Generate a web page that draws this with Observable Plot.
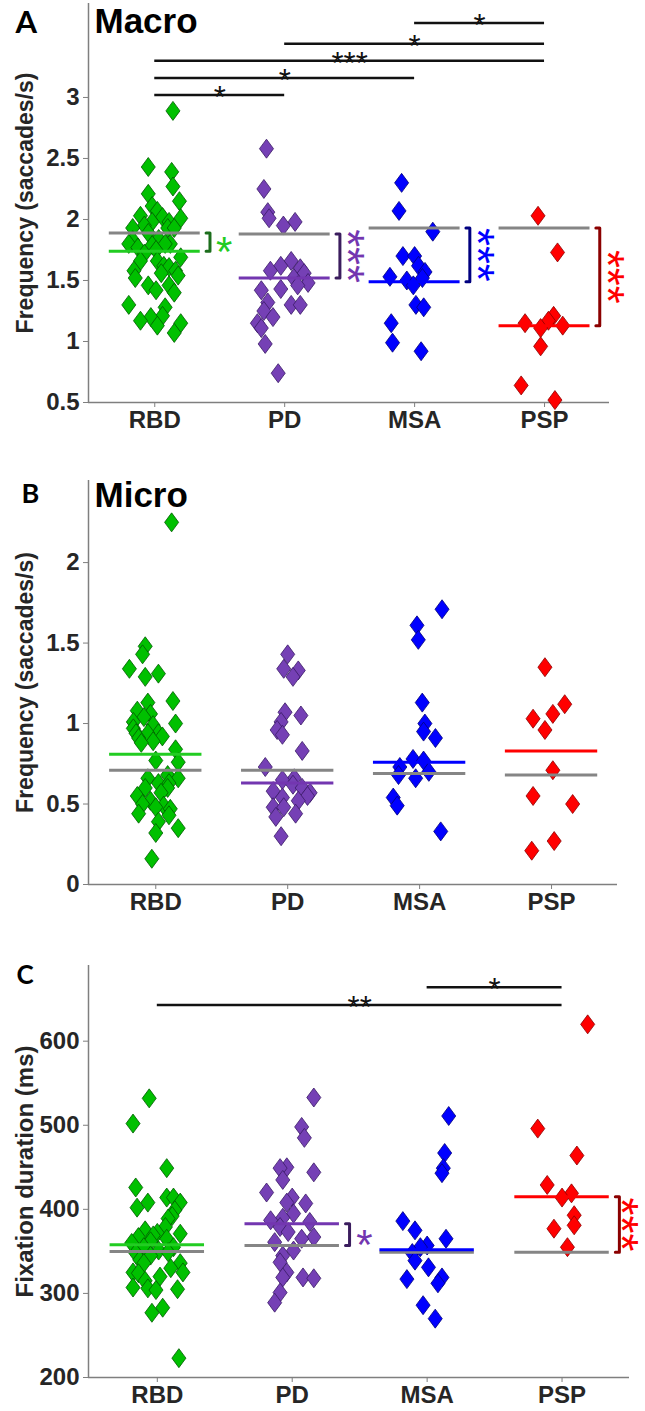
<!DOCTYPE html>
<html>
<head>
<meta charset="utf-8">
<script src="https://cdn.jsdelivr.net/npm/d3@7"></script>
<script src="https://cdn.jsdelivr.net/npm/@observablehq/plot@0.6"></script>
<style>
  body { margin: 0; background: #fff; }
  #chart svg { display: block; }
</style>
</head>
<body>
<div id="chart"></div>
<script>
const groups = ["RBD", "PD", "MSA", "PSP"];

// ---------- Panel A: Macro (saccades/s) ----------
const macroRBD  = [2.89,2.43,2.39,2.27,2.21,2.15,2.11,2.07,2.03,2.01,2.02,1.98,1.98,1.95,1.93,1.93,1.93,1.89,1.84,1.83,1.80,1.80,1.80,1.79,1.77,1.75,1.72,1.69,1.66,1.66,1.62,1.61,1.58,1.58,1.56,1.54,1.52,1.46,1.46,1.42,1.40,1.30,1.28,1.21,1.20,1.17,1.15,1.13,1.07];
const macroRBDx = [0.14,-0.05,0.13,0.14,-0.05,0.19,-0.02,0.02,-0.11,0.20,0.06,-0.02,0.11,-0.08,-0.17,0.10,0.15,-0.05,0.03,-0.17,-0.20,0.12,0.08,-0.02,-0.13,0.01,-0.08,0.20,0.02,-0.11,0.07,0.11,-0.16,0.16,0.05,0.18,-0.15,-0.05,0.11,0.01,0.15,-0.20,0.08,0.06,-0.03,-0.11,0.20,0.02,0.15];
const macroPD   = [2.58,2.25,2.06,2.01,1.98,1.95,1.66,1.62,1.60,1.58,1.56,1.52,1.48,1.46,1.43,1.42,1.32,1.30,1.30,1.25,1.20,1.15,1.11,0.98,0.74];
const macroPDx  = [-0.14,-0.16,-0.13,-0.12,0.08,-0.01,0.05,-0.03,0.12,-0.11,0.15,0.07,0.18,0.10,-0.03,-0.18,-0.13,0.05,0.12,-0.16,-0.09,-0.21,-0.18,-0.15,-0.05];
const macroMSA  = [2.30,2.07,1.90,1.70,1.70,1.62,1.57,1.53,1.52,1.50,1.46,1.30,1.28,1.15,0.99,0.92];
const macroMSAx = [-0.10,-0.12,0.14,-0.09,0.00,0.03,0.08,-0.19,0.06,-0.06,-0.01,0.01,0.07,-0.18,-0.17,0.05];
const macroPSP  = [2.03,1.73,1.21,1.17,1.15,1.13,1.11,0.96,0.64,0.52];
const macroPSPx = [-0.05,0.10,0.07,0.03,-0.15,0.14,-0.03,-0.03,-0.18,0.08];
const macroMedian  = [1.74, 1.52, 1.49, 1.13];
const macroControl = [1.89, 1.88, 1.93, 1.93];
const macroStars   = ["*", "***", "***", "***"];
const macroSig = [
  {a: 0, b: 1, y: 3.02, label: "*"},
  {a: 0, b: 2, y: 3.16, label: "*"},
  {a: 0, b: 3, y: 3.30, label: "***"},
  {a: 1, b: 3, y: 3.44, label: "*"},
  {a: 2, b: 3, y: 3.61, label: "*"}
];
const macroTicks = [0.5, 1, 1.5, 2, 2.5, 3];

// ---------- Panel B: Micro (saccades/s) ----------
const microRBD  = [2.25,1.48,1.43,1.34,1.31,1.29,1.14,1.13,1.08,1.06,1.04,1.01,1.00,0.99,0.97,0.94,0.94,0.94,0.92,0.91,0.89,0.88,0.84,0.77,0.76,0.68,0.66,0.66,0.63,0.63,0.60,0.60,0.57,0.55,0.52,0.50,0.49,0.48,0.47,0.44,0.43,0.39,0.35,0.32,0.16];
const microRBDx = [0.12,-0.08,-0.10,-0.20,0.02,-0.08,0.13,-0.06,-0.14,-0.04,-0.09,-0.17,0.15,-0.02,-0.17,0.02,-0.15,-0.06,0.05,-0.13,-0.02,-0.11,0.15,0.00,0.17,0.09,-0.06,0.17,0.02,0.10,0.09,-0.08,0.04,-0.14,-0.04,-0.10,0.06,0.00,0.11,-0.13,0.10,0.02,0.17,0.00,-0.03];
const microPD   = [1.43,1.34,1.33,1.29,1.07,1.05,1.01,0.96,0.93,0.83,0.73,0.66,0.65,0.62,0.60,0.58,0.57,0.55,0.54,0.52,0.48,0.48,0.44,0.42,0.30];
const microPDx  = [0.00,-0.03,0.08,0.04,-0.02,0.10,-0.05,-0.08,-0.04,0.11,-0.17,0.05,-0.04,0.04,0.11,-0.11,0.17,0.15,-0.04,0.08,-0.11,-0.03,0.06,-0.09,-0.05];
const microMSA  = [1.71,1.61,1.52,1.13,1.00,0.95,0.91,0.78,0.77,0.73,0.70,0.68,0.66,0.54,0.49,0.33];
const microMSAx = [0.17,-0.02,-0.01,0.02,0.04,0.03,0.12,-0.05,0.03,-0.15,0.07,-0.16,-0.03,-0.20,-0.17,0.16];
const microPSP  = [1.35,1.12,1.06,1.03,0.96,0.71,0.55,0.50,0.27,0.21];
const microPSPx = [-0.05,0.10,0.01,-0.14,-0.05,0.01,-0.14,0.16,0.02,-0.15];
const microMedian  = [0.81, 0.63, 0.76, 0.83];
const microControl = [0.71, 0.71, 0.69, 0.68];
const microTicks = [0, 0.5, 1, 1.5, 2];

// ---------- Panel C: Fixation duration (ms) ----------
const fixRBD  = [532,502,449,426,414,414,408,408,402,399,392,389,379,375,372,371,369,367,365,362,360,355,355,351,349,348,345,340,336,336,330,325,325,324,320,315,307,306,305,304,283,277,223];
const fixRBDx = [-0.06,-0.18,0.07,-0.16,0.07,0.12,-0.07,0.17,-0.15,0.13,0.11,0.08,0.06,-0.09,0.00,0.17,-0.03,-0.14,0.07,-0.05,-0.19,-0.10,0.12,0.01,0.08,-0.16,-0.05,-0.13,-0.10,0.17,0.10,-0.18,0.19,-0.14,0.02,-0.09,-0.18,-0.07,0.15,-0.01,0.04,-0.04,0.16];
const fixPD   = [533,498,485,450,449,444,435,420,414,408,407,395,390,387,385,379,373,367,365,361,351,345,337,325,319,319,318,301,289];
const fixPDx  = [0.16,0.07,0.09,-0.04,-0.09,0.16,-0.07,-0.19,0.00,-0.04,0.10,0.01,-0.07,-0.16,0.13,-0.09,-0.03,0.16,0.07,-0.13,0.01,-0.07,-0.09,-0.04,-0.07,0.08,0.16,-0.09,-0.13];
const fixMSA  = [511,467,449,443,386,375,365,357,355,348,339,331,319,317,312,286,270];
const fixMSAx = [0.16,0.13,0.12,0.11,-0.18,-0.09,0.14,0.00,-0.05,-0.11,-0.09,0.01,0.11,-0.15,0.08,-0.03,0.06];
const fixPSP  = [620,496,464,429,419,414,393,381,377,355];
const fixPSPx = [0.19,-0.18,0.11,-0.11,0.07,0.00,0.09,0.09,-0.06,0.04];
const fixMedian  = [358, 383, 352, 415];
const fixControl = [350, 357, 349, 349];
const fixStars   = [null, "*", null, "***"];
const fixSig = [
  {a: 2, b: 3, y: 664, label: "*"},
  {a: 0, b: 3, y: 643, label: "**"}
];
const fixTicks = [200, 300, 400, 500, 600];

// ---------- styling ----------
const fills   = ["#00c000", "#7540b5", "#0000ff", "#ff0000"];
const edges   = ["#005a00", "#3a1a66", "#00007a", "#8b0000"];
const lineCol = ["#22cc22", "#7336b0", "#0000ff", "#ff0000"];
const brCol   = ["#1c6e1c", "#3b1d5e", "#000080", "#8b0000"];
const axisGray = "#7f7f7f";
const textDark = "#262626";
const sansBold = "'Liberation Sans', Arial, sans-serif";
const xDomain = [-0.51, 3.5];

const diamond = {
  draw(ctx, size) {
    const r = Math.sqrt(size / Math.PI);
    const w = r * 0.74;
    ctx.moveTo(0, -r); ctx.lineTo(w, 0); ctx.lineTo(0, r); ctx.lineTo(-w, 0); ctx.closePath();
  }
};

function rowsOf(values, jitters) {
  return values.map((vals, g) => vals.map((v, i) => ({g, x: g + jitters[g][i], y: v})));
}

function panel(o) {
  const rows = rowsOf(o.values, o.jitters);
  const marks = [];
  // axis lines
  marks.push(Plot.ruleX([xDomain[0]], {stroke: axisGray, strokeWidth: 1.5}));
  marks.push(Plot.ruleY([o.yDomain[0]], {stroke: axisGray, strokeWidth: 1.5}));
  marks.push(Plot.axisY({ticks: o.yTicks, tickFormat: d => String(d), tickSize: 5, tickPadding: 4,
    label: null, stroke: axisGray, fill: textDark, fontSize: 24, fontWeight: "bold"}));
  marks.push(Plot.axisX({ticks: [0, 1, 2, 3], tickFormat: i => groups[i], tickSize: 5, tickPadding: 3,
    label: null, stroke: axisGray, fill: textDark, fontSize: 24, fontWeight: "bold"}));
  // data points
  rows.forEach((r, g) => {
    marks.push(Plot.dot(r, {x: "x", y: "y", symbol: diamond, r: 9.5, fill: fills[g], stroke: edges[g], strokeWidth: 0.8}));
  });
  // control (gray) and group median lines
  const lines = groups.map((name, g) => ({g, control: o.control[g], median: o.median[g]}));
  marks.push(Plot.ruleY(lines, {x1: d => d.g - 0.35, x2: d => d.g + 0.35, y: "control", stroke: "#858585", strokeWidth: 3}));
  lines.forEach(d => {
    marks.push(Plot.ruleY([d], {x1: d => d.g - 0.35, x2: d => d.g + 0.35, y: "median", stroke: lineCol[d.g], strokeWidth: 3}));
  });
  // brackets with colored stars
  if (o.stars) {
    o.stars.forEach((s, g) => {
      if (!s) return;
      const pts = [
        {x: g + 0.395, y: o.control[g]}, {x: g + 0.425, y: o.control[g]},
        {x: g + 0.425, y: o.median[g]}, {x: g + 0.395, y: o.median[g]}
      ];
      marks.push(Plot.line(pts, {x: "x", y: "y", stroke: brCol[g], strokeWidth: 3}));
      const mid = [{g, y: (o.control[g] + o.median[g]) / 2, t: s}];
      if (s.length > 1) {
        // vertical stack of stars: one string, turned upright
        marks.push(Plot.text(mid, {
          x: d => d.g + (o.stackOffset ?? 0.53), y: "y", text: "t", fill: lineCol[g], fontSize: 46,
          fontFamily: sansBold, fontWeight: "normal", rotate: 90,
          lineAnchor: "middle", textAnchor: "middle", dx: -6.5
        }));
      } else {
        marks.push(Plot.text(mid, {
          x: d => d.g + 0.535, y: "y", text: "t", fill: lineCol[g], fontSize: 42,
          fontFamily: sansBold, fontWeight: "normal",
          lineAnchor: "middle", textAnchor: "middle", dy: 11
        }));
      }
    });
  }
  // significance lines between groups
  if (o.sig) {
    marks.push(Plot.ruleY(o.sig, {x1: "a", x2: "b", y: "y", stroke: "#111", strokeWidth: 2.5}));
    marks.push(Plot.text(o.sig, {x: d => (d.a + d.b) / 2, y: "y", text: "label", fill: "#111", fontSize: 31,
      fontWeight: "normal", lineAnchor: "middle", textAnchor: "middle", dy: 3}));
  }
  // y-axis title
  marks.push(Plot.text([o.yLabel], {frameAnchor: "left", text: d => d, rotate: -90, dx: -63,
    fontSize: o.yLabelSize, fontWeight: "bold", fill: textDark, textAnchor: "middle", lineAnchor: "middle"}));
  // panel letter and title
  marks.push(Plot.text([o.letter], {frameAnchor: "top-left", text: d => d, dx: o.letterDx, dy: o.letterDy,
    fontFamily: "Lato, sans-serif", fontWeight: 700, fontSize: o.letterSize, fill: "#000",
    textAnchor: "start", lineAnchor: "top"}));
  if (o.title) {
    marks.push(Plot.text([o.title], {frameAnchor: "top-left", text: d => d, dx: 6, dy: o.titleDy,
      fontFamily: sansBold, fontWeight: "bold", fontSize: 35, fill: "#000",
      textAnchor: "start", lineAnchor: "top"}));
  }
  return Plot.plot({
    width: 645,
    height: o.height,
    marginLeft: 88,
    marginRight: o.marginRight,
    marginTop: o.marginTop,
    marginBottom: o.marginBottom,
    x: {domain: xDomain},
    y: {domain: o.yDomain},
    style: {fontFamily: sansBold, fontSize: "24px", fontWeight: "bold",
      color: textDark, background: "#fff", overflow: "visible"},
    marks
  });
}

const chart = document.getElementById("chart");
chart.appendChild(panel({
  values: [macroRBD, macroPD, macroMSA, macroPSP],
  jitters: [macroRBDx, macroPDx, macroMSAx, macroPSPx],
  control: macroControl, median: macroMedian, stars: macroStars, sig: macroSig,
  yDomain: [0.5, 3.77], yTicks: macroTicks,
  height: 450, marginTop: 3, marginBottom: 48, marginRight: 36,
  yLabel: "Frequency (saccades/s)", yLabelSize: 23,
  letter: "A", letterDx: -73, letterDy: 7, letterSize: 31,
  title: "Macro", titleDy: 5
}));
chart.appendChild(panel({
  values: [microRBD, microPD, microMSA, microPSP],
  jitters: [microRBDx, microPDx, microMSAx, microPSPx],
  control: microControl, median: microMedian, stars: null, sig: null,
  yDomain: [0, 2.51], yTicks: microTicks,
  height: 480, marginTop: 30, marginBottom: 46, marginRight: 28,
  yLabel: "Frequency (saccades/s)", yLabelSize: 23,
  letter: "B", letterDx: -67, letterDy: 3, letterSize: 27,
  title: "Micro", titleDy: 2
}));
chart.appendChild(panel({
  values: [fixRBD, fixPD, fixMSA, fixPSP],
  jitters: [fixRBDx, fixPDx, fixMSAx, fixPSPx],
  control: fixControl, median: fixMedian, stars: fixStars, sig: fixSig,
  stackOffset: 0.48,
  yDomain: [200, 690], yTicks: fixTicks,
  height: 481, marginTop: 35, marginBottom: 34, marginRight: 16,
  yLabel: "Fixation duration (ms)", yLabelSize: 24,
  letter: "C", letterDx: -72, letterDy: 0, letterSize: 26,
  title: null
}));
</script>
</body>
</html>
